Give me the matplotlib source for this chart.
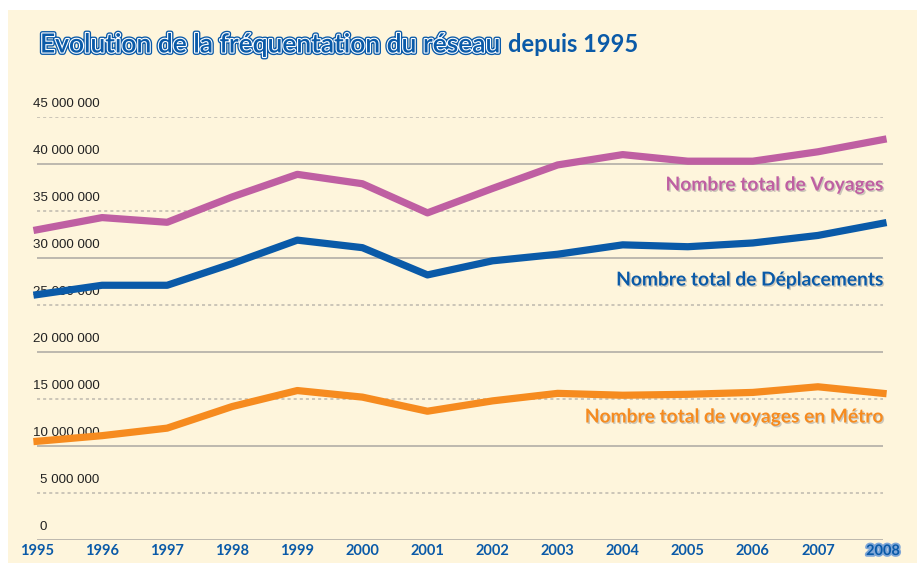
import matplotlib.pyplot as plt
import matplotlib.patheffects as pe
from matplotlib.patches import Rectangle

# Données (en millions)
annees = [1995, 1996, 1997, 1998, 1999, 2000, 2001, 2002, 2003, 2004, 2005, 2006, 2007, 2008]
voyages = [33.0, 34.3, 33.8, 36.5, 38.9, 37.9, 34.8, 37.4, 39.9, 41.0, 40.3, 40.3, 41.3, 42.6]
deplacements = [26.1, 27.1, 27.1, 29.4, 31.9, 31.1, 28.2, 29.7, 30.4, 31.4, 31.2, 31.6, 32.4, 33.7]
metro = [10.5, 11.1, 11.9, 14.2, 15.9, 15.2, 13.7, 14.8, 15.6, 15.4, 15.5, 15.7, 16.3, 15.6]
graduations = [0, 5, 10, 15, 20, 25, 30, 35, 40, 45]
etiquettes_y = ['0', '5 000 000', '10 000 000', '15 000 000', '20 000 000',
                '25 000 000', '30 000 000', '35 000 000', '40 000 000', '45 000 000']

fond = '#fef5dc'
bleu = '#0a5aa8'
rose = '#bf5fa2'
orange = '#f68b1f'
gris = '#bdb8ae'

W, H = 917, 563
fig = plt.figure(figsize=(W / 100, H / 100), dpi=100)
fig.patch.set_facecolor('white')
fig.patches.append(Rectangle((8 / W, 0), 1, 1 - 10 / H, transform=fig.transFigure,
                             facecolor=fond, edgecolor='none', zorder=-10))

ax = fig.add_axes([37 / W, 23 / H, 846 / W, 423 / H])
ax.set_facecolor('none')
ax.set_xlim(1995, 2008)
ax.set_ylim(0, 45)
for s in ax.spines.values():
    s.set_visible(False)
ax.set_xticks([])
ax.set_yticks([])

# grille : pleine aux dizaines, pointillée aux 5 millions
for v in graduations:
    if v % 10 == 0:
        ax.axhline(v, color=gris, lw=1.4, zorder=1)
    else:
        ax.axhline(v, color=gris, lw=1.1, ls=(0, (2, 2)), zorder=1)

for v, lab in zip(graduations, etiquettes_y):
    dx = -4 if len(lab) > 9 else 3
    ax.annotate(lab, xy=(1995, v), xytext=(dx, 13), textcoords='offset pixels',
                ha='left', va='center', fontsize=9.6, color='#222222',
                family='Liberation Sans')

ax.plot(annees, voyages, color=rose, lw=5.2, clip_on=False, zorder=3)
ax.plot(annees, deplacements, color=bleu, lw=5.2, clip_on=False, zorder=3)
ax.plot(annees, metro, color=orange, lw=5.2, clip_on=False, zorder=3)

ombre = [pe.SimplePatchShadow(offset=(1, -1), shadow_rgbFace='#999999', alpha=0.5), pe.Normal()]
txt = dict(ha='right', va='center', fontsize=13.8, fontweight='bold', family='Lato',
           zorder=4, path_effects=ombre)
ax.annotate('Nombre total de Voyages', xy=(2008, 0), xytext=(0, 540 - 185),
            textcoords='offset pixels', color=rose, **txt)
ax.annotate('Nombre total de Déplacements', xy=(2008, 0), xytext=(0, 540 - 280),
            textcoords='offset pixels', color=bleu, **txt)
ax.annotate('Nombre total de voyages en Métro', xy=(2008, 0), xytext=(0, 540 - 417),
            textcoords='offset pixels', color=orange, **txt)

# années sous l'axe
contour = [pe.withStroke(linewidth=2.5, foreground='#7fa6d6')]
for a in annees:
    ax.annotate(str(a), xy=(a, 0), xytext=(0, -11), textcoords='offset pixels',
                ha='center', va='center', fontsize=10.5, fontweight='bold',
                family='Lato', color=bleu,
                path_effects=contour if a == 2008 else None)

titre_fx = [pe.Stroke(linewidth=3.5, foreground=bleu), pe.Stroke(linewidth=1.6, foreground='white'),
            pe.Normal()]
t1 = fig.text(40 / W, 1 - 45 / H, 'Evolution de la fréquentation du réseau', ha='left',
              va='center', fontsize=19, fontweight='semibold', family='Lato', color=bleu,
              path_effects=titre_fx)
fig.canvas.draw()
bb = t1.get_window_extent()
fig.text((bb.x1 + 8) / W, 1 - 45 / H, 'depuis 1995', ha='left', va='center',
         fontsize=17, fontweight='bold', family='Lato', color=bleu)

fig.savefig('out.png', dpi=100, facecolor='white')
